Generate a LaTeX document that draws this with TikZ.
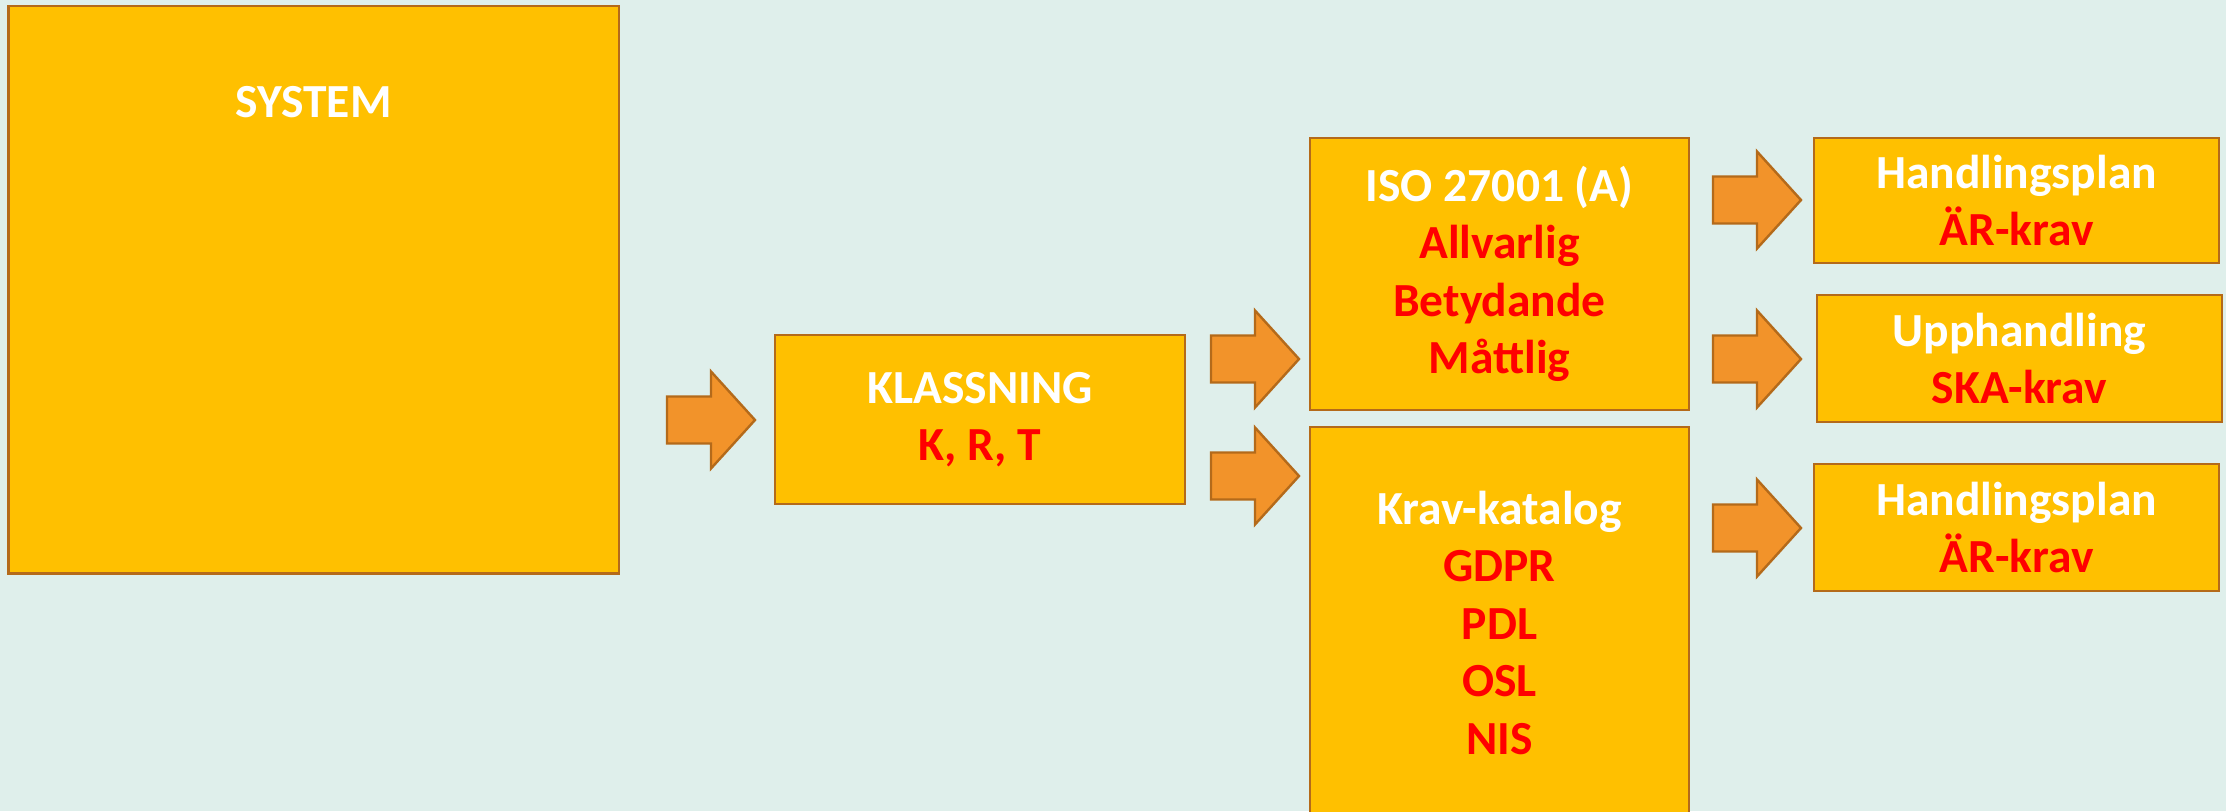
\documentclass[tikz,border=0pt]{standalone}
\usepackage{fontspec}
\setmainfont{Carlito}
\definecolor{bg}{HTML}{DFEFEB}
\definecolor{boxfill}{HTML}{FFC000}
\definecolor{boxline}{HTML}{B46A1A}
\definecolor{arrowfill}{HTML}{F2932A}
\definecolor{redtxt}{HTML}{FF0000}
\tikzset{
  box/.style={draw=boxline, fill=boxfill, line width=1.2pt, inner sep=0pt, align=center,
    font=\fontsize{23.75}{28.75}\selectfont\bfseries, text=white},
  lbl/.style={inner sep=0pt, font=\fontsize{23.75}{28.75}\selectfont\bfseries, text=white},
  blockarrow/.style={draw=boxline, fill=arrowfill, line width=1.2pt, line join=miter},
}
\newcommand{\rt}[1]{\textcolor{redtxt}{#1}}
% #1 = coordinate name (left, centre)
\newcommand{\barrow}[1]{%
  \path[blockarrow] ($(#1)+(0,-23.5)$) -- ++(44,0) -- ++(0,-25) -- ($(#1)+(88,0)$)
    -- ($(#1)+(44,48.5)$) -- ++(0,-25) -- ($(#1)+(0,23.5)$) -- cycle;}
\usetikzlibrary{calc}
\begin{document}
\begin{tikzpicture}[x=0.5pt, y=-0.5pt]
\fill[bg] (0,0) rectangle (2226,811);
\useasboundingbox (0,0) rectangle (2226,811);
\begin{scope}
\clip (0,0) rectangle (2226,811);
% boxes
\node[box, minimum width=305.25pt, minimum height=283.9pt] (sys) at (313.75,289.6) {};
\node[lbl] (systxt) at (313.75,102) {SYSTEM};
\node[box, minimum width=205pt, minimum height=84.5pt] (kl) at (980,419.5)
  {KLASSNING\\\rt{K, R, T}};
\node[box, minimum width=189.5pt, minimum height=136pt] (iso) at (1499.5,274)
  {ISO 27001 (A)\\\rt{Allvarlig}\\\rt{Betydande}\\\rt{Måttlig}};
\node[box, minimum width=189.5pt, minimum height=195.5pt] (krav) at (1499.5,622.5)
  {Krav-katalog\\\rt{GDPR}\\\rt{PDL}\\\rt{OSL}\\\rt{NIS}};
\node[box, minimum width=202.5pt, minimum height=62.5pt] (hp1) at (2016.5,200.5)
  {Handlingsplan\\\rt{ÄR-krav}};
\node[box, minimum width=202.5pt, minimum height=63.5pt] (up) at (2019.5,358.5)
  {Upphandling\\\rt{SKA-krav}};
\node[box, minimum width=202.5pt, minimum height=63.5pt] (hp2) at (2016.5,527.5)
  {Handlingsplan\\\rt{ÄR-krav}};
\end{scope}
% block arrows
\coordinate (a1) at (667,420);
\coordinate (a2) at (1211,359);
\coordinate (a3) at (1211,476);
\coordinate (a4) at (1713,200);
\coordinate (a5) at (1713,359);
\coordinate (a6) at (1713,528);
\barrow{a1}
\barrow{a2}
\barrow{a3}
\barrow{a4}
\barrow{a5}
\barrow{a6}
\end{tikzpicture}
\end{document}
